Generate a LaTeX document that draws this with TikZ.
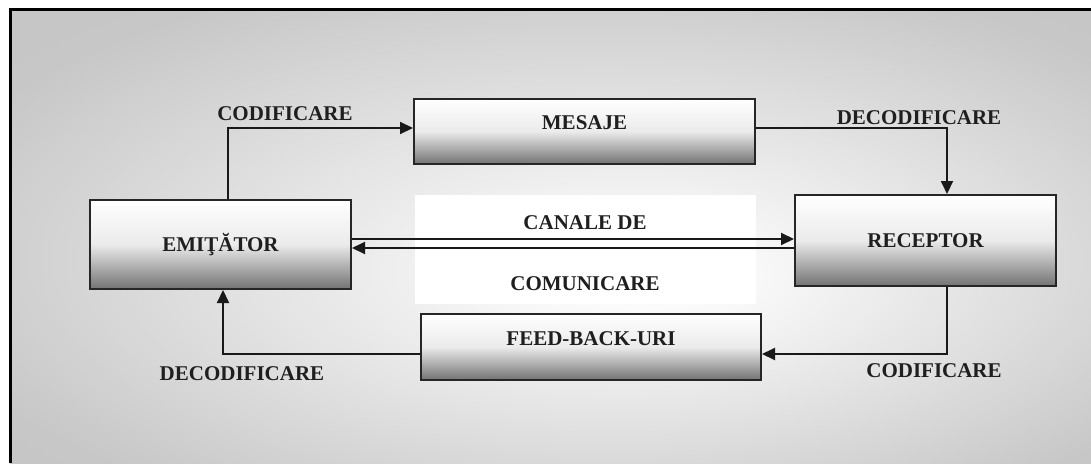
\documentclass[tikz,border=0pt]{standalone}
\usepackage{fontspec}
\setmainfont{Liberation Serif}
\usetikzlibrary{arrows.meta}
\pgfdeclareradialshading{fond}{\pgfpoint{4.5bp}{-5bp}}{color(0bp)=(white); color(6bp)=(white!97!black); color(32bp)=(black!22); color(50bp)=(black!24)}
\tikzset{
  bloc/.style={draw=black!85, line width=2pt, inner sep=0pt,
    top color=white, bottom color=black!55, middle color=black!8,
    text height=14pt, font=\fontsize{21}{25}\selectfont\bfseries, text=black!88},
  eticheta/.style={inner sep=0pt, text height=14pt, text depth=0pt,
    font=\fontsize{21}{25}\selectfont\bfseries, text=black!88},
  flux/.style={draw=black!90, line width=2pt, -{Triangle[length=13pt,width=12pt]}}
}
\newcommand{\bloc}[7]{% 1 name, 2-3 centre x-y, 4-5 width-height, 6 raise, 7 text
  \node[bloc, minimum width=#4pt, minimum height=#5pt, text depth=#6pt] (#1) at (#2,#3) {#7};
}

\begin{document}
\begin{tikzpicture}[x=1pt, y=-1pt]
\useasboundingbox (0,0) rectangle (1091,463);
% fond
\shade[shading=fond] (10,9) rectangle (1091,463);
\draw[line width=3pt] (10,463) -- (10,9) -- (1091,9);
\fill[white] (415,195) rectangle (756,304);

% blocuri
\bloc{mesaje}{584.5}{131.5}{341}{65}{19}{MESAJE}
\bloc{emitator}{220.5}{244.5}{261}{89}{0}{EMIŢĂTOR}
\bloc{receptor}{925.5}{240.5}{261}{91}{0}{RECEPTOR}
\bloc{feedback}{591}{347}{340}{66}{18}{FEED-BACK-URI}

% etichete
\node[eticheta] (codif1) at (285,113) {CODIFICARE};
\node[eticheta] (decod1) at (919,117) {DECODIFICARE};
\node[eticheta] (canale) at (585,222) {CANALE DE};
\node[eticheta] (comunicare) at (585,283) {COMUNICARE};
\node[eticheta] (decod2) at (242,373) {DECODIFICARE};
\node[eticheta] (codif2) at (934,370) {CODIFICARE};

% sageti
\draw[flux] ([xshift=7.5pt]emitator.north) |- ([yshift=3.5pt]mesaje.west);
\draw[flux] ([yshift=3.5pt]mesaje.east) -| ([xshift=21.5pt]receptor.north);
\draw[flux] ([yshift=5.5pt]emitator.east) -- ([yshift=5.5pt]emitator.east -| receptor.west);
\draw[flux] ([yshift=-3.5pt]emitator.east -| receptor.west) -- ([yshift=-3.5pt]emitator.east);
\draw[flux] ([xshift=21.5pt]receptor.south) |- ([yshift=-7pt]feedback.east);
\draw[flux] ([yshift=-7pt]feedback.west) -| ([xshift=2.5pt]emitator.south);
\end{tikzpicture}
\end{document}
